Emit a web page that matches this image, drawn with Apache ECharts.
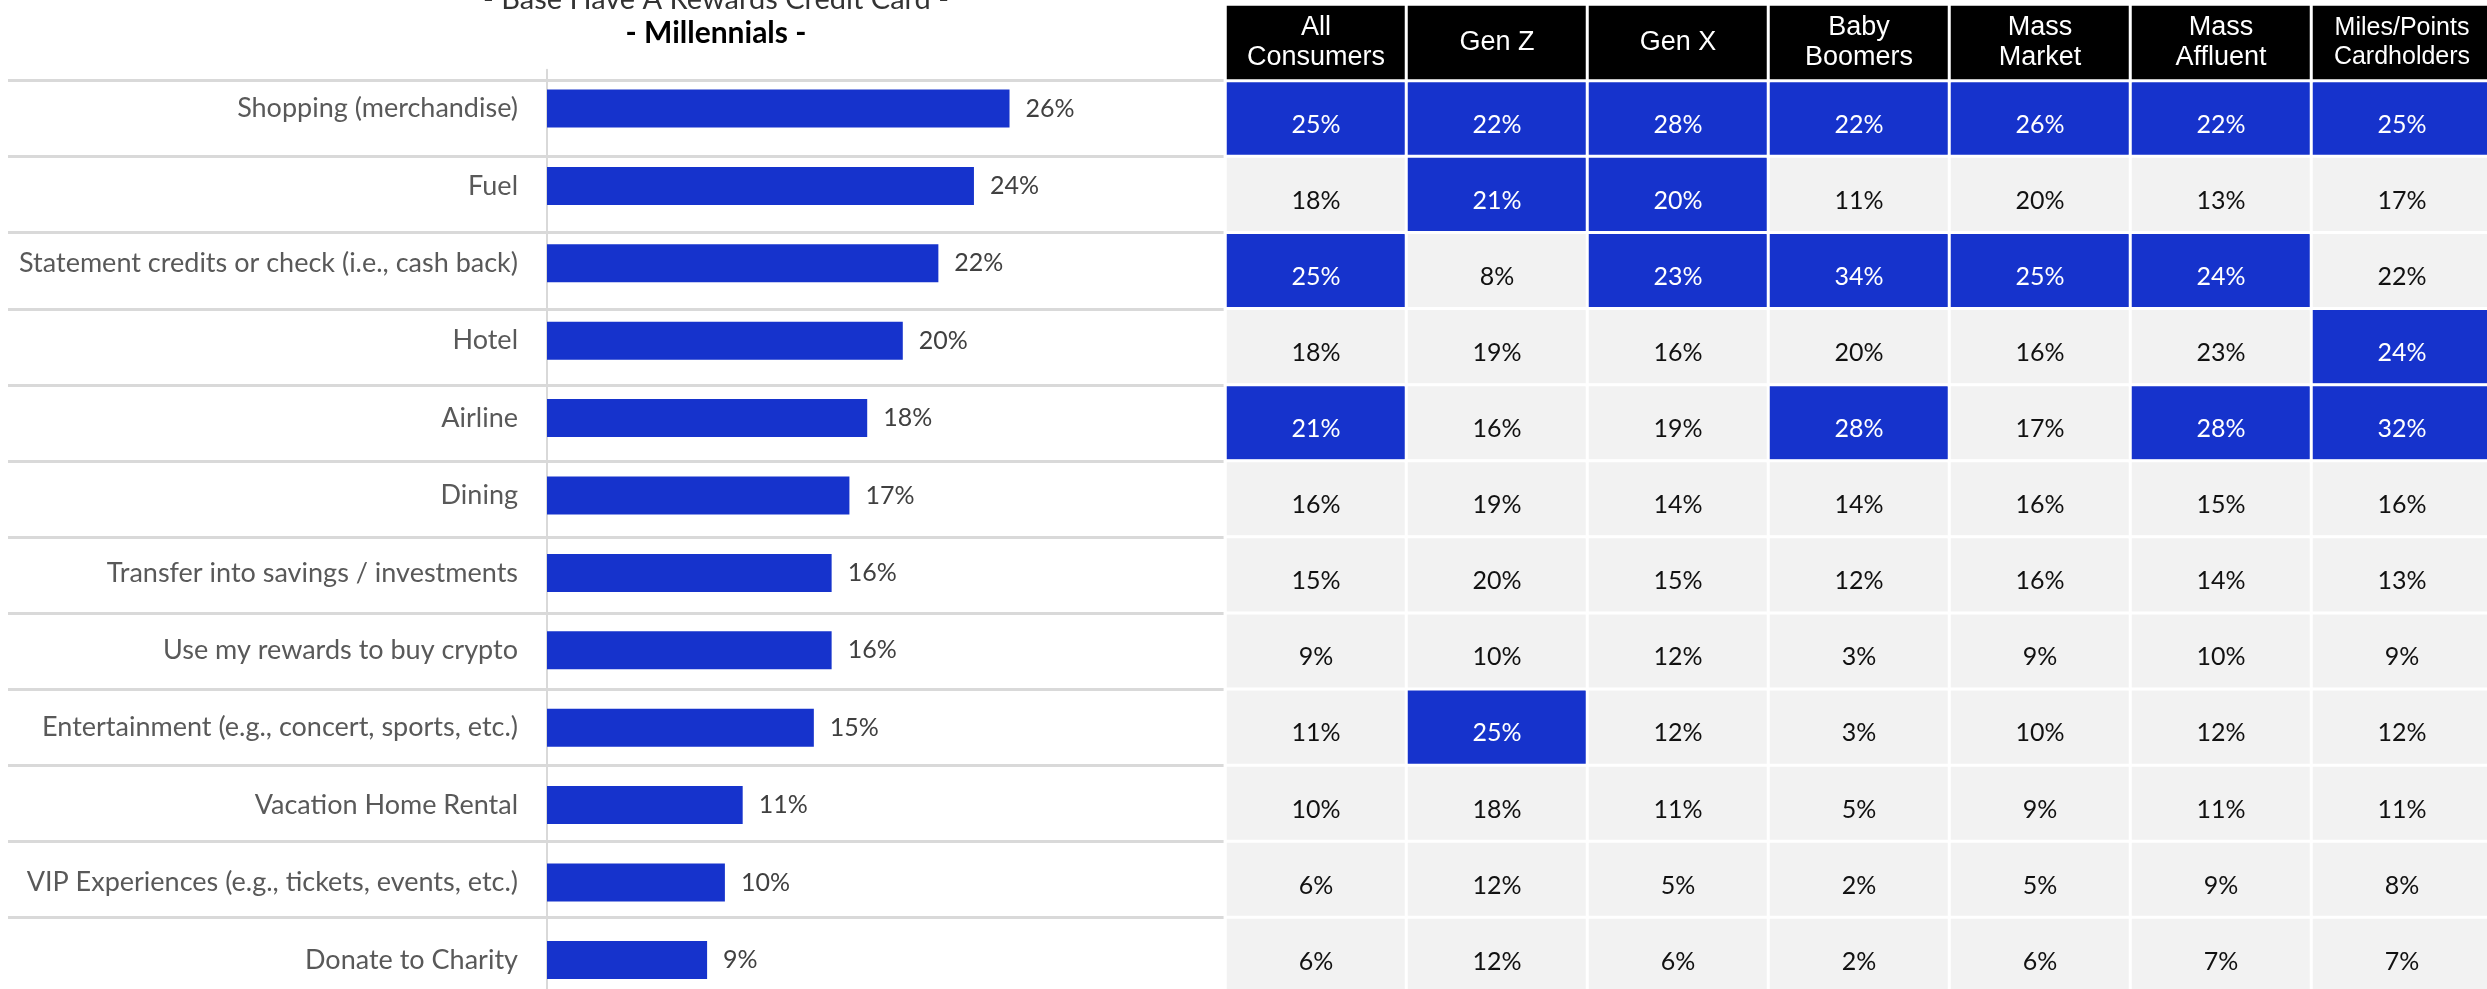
<!DOCTYPE html>
<html>
<head>
<meta charset="utf-8">
<title>Rewards Redemption Preferences</title>
<script src="https://cdn.jsdelivr.net/npm/echarts@6/dist/echarts.min.js"></script>
<style>
  html, body { margin: 0; padding: 0; background: #ffffff; }
  #chart { width: 2487px; height: 989px; }
</style>
</head>
<body>
<div id="chart"></div>
<script>
// Redemption categories, top to bottom
const categories = [
  'Shopping (merchandise)',
  'Fuel',
  'Statement credits or check (i.e., cash back)',
  'Hotel',
  'Airline',
  'Dining',
  'Transfer into savings / investments',
  'Use my rewards to buy crypto',
  'Entertainment (e.g., concert, sports, etc.)',
  'Vacation Home Rental',
  'VIP Experiences (e.g., tickets, events, etc.)',
  'Donate to Charity'
];

// Millennials share (%) for each category
const millennials = [26, 24, 22, 20, 18, 17, 16, 16, 15, 11, 10, 9];

// Comparison segments (column headers)
const segments = [
  'All\nConsumers', 'Gen Z', 'Gen X', 'Baby\nBoomers',
  'Mass\nMarket', 'Mass\nAffluent', 'Miles/Points\nCardholders'
];

// Share (%) per category for each comparison segment
const allConsumers = [25, 18, 25, 18, 21, 16, 15, 9, 11, 10, 6, 6];
const genZ         = [22, 21, 8, 19, 16, 19, 20, 10, 25, 18, 12, 12];
const genX         = [28, 20, 23, 16, 19, 14, 15, 12, 12, 11, 5, 6];
const babyBoomers  = [22, 11, 34, 20, 28, 14, 12, 3, 3, 5, 2, 2];
const massMarket   = [26, 20, 25, 16, 17, 16, 16, 9, 10, 9, 5, 6];
const massAffluent = [22, 13, 24, 23, 28, 15, 14, 10, 12, 11, 9, 7];
const milesPoints  = [25, 17, 22, 24, 32, 16, 13, 9, 12, 11, 8, 7];

// Category rows shown as a segment's top picks
const highlightRows = [
  [0, 2, 4],   // All Consumers
  [0, 1, 8],   // Gen Z
  [0, 1, 2],   // Gen X
  [0, 2, 4],   // Baby Boomers
  [0, 2],      // Mass Market
  [0, 2, 4],   // Mass Affluent
  [0, 3, 4]    // Miles/Points Cardholders
];

const BLUE = '#1633CC';
const CELL_GREY = '#F2F2F2';

const segmentColumns = [allConsumers, genZ, genX, babyBoomers, massMarket, massAffluent, milesPoints];

// Table cells: [column, row, value], coloured by highlight
const tableCells = [];
segmentColumns.forEach(function (col, ci) {
  col.forEach(function (v, ri) {
    const hot = highlightRows[ci].indexOf(ri) !== -1;
    tableCells.push({
      value: [ci, ri, v],
      itemStyle: { color: hot ? BLUE : CELL_GREY },
      label: { color: hot ? '#ffffff' : '#111111' }
    });
  });
});

// Header row cells
const headerCells = segments.map(function (name, ci) {
  const small = ci === segments.length - 1;
  return {
    value: [ci, 0, 0],
    label: small ? { fontSize: 25, lineHeight: 29 } : {}
  };
});

const ROW_H = 76.1;   // table / separator row pitch
const BAR_H = 77.4;   // bar band pitch
const N = categories.length;

const chart = echarts.init(document.getElementById('chart'), null, { renderer: 'canvas' });

chart.setOption({
  animation: false,
  backgroundColor: '#ffffff',
  graphic: [
    {
      type: 'text', x: 716, y: 0,
      style: {
        text: '- Base Have A Rewards Credit Card -',
        font: '29px Lato', fill: '#333333',
        align: 'center', verticalAlign: 'middle'
      }
    },
    {
      type: 'text', x: 716, y: 33,
      style: {
        text: '- Millennials -',
        font: 'bold 30px Lato', fill: '#000000',
        align: 'center', verticalAlign: 'middle'
      }
    }
  ],
  grid: [
    // bars
    { left: 547, top: 69.8, width: 676, height: BAR_H * N, outerBoundsMode: 'none' },
    // row separators
    { left: 8, top: 80.5, width: 1218, height: ROW_H * N, outerBoundsMode: 'none' },
    // comparison table body
    { left: 1225.5, top: 80.5, width: 181 * 7, height: ROW_H * N, outerBoundsMode: 'none' },
    // comparison table header
    { left: 1225.5, top: 4.5, width: 181 * 7, height: 76, outerBoundsMode: 'none' }
  ],
  xAxis: [
    { gridIndex: 0, type: 'value', min: 0, max: 38, show: false },
    { gridIndex: 1, type: 'value', min: 0, max: 1, show: false },
    { gridIndex: 2, type: 'category', data: segments, show: false },
    { gridIndex: 3, type: 'category', data: segments, show: false }
  ],
  yAxis: [
    {
      gridIndex: 0, type: 'category', data: categories, inverse: true,
      axisLine: { show: true, lineStyle: { color: '#d9d9d9', width: 2 } },
      axisTick: { show: false },
      splitLine: { show: false },
      axisLabel: {
        interval: 0, margin: 29, color: '#595959',
        fontFamily: 'Lato', fontSize: 27
      }
    },
    {
      gridIndex: 1, type: 'category', data: categories, inverse: true,
      axisLine: { show: false }, axisTick: { show: false },
      axisLabel: { show: false, interval: 0 },
      splitLine: { show: true, interval: 0, lineStyle: { color: '#d9d9d9', width: 3 } }
    },
    { gridIndex: 2, type: 'category', data: categories, inverse: true, show: false },
    { gridIndex: 3, type: 'category', data: ['header'], show: false }
  ],
  series: [
    {
      type: 'bar',
      xAxisIndex: 0, yAxisIndex: 0,
      data: millennials,
      barWidth: 38,
      itemStyle: { color: BLUE },
      label: {
        show: true, position: 'right', distance: 16,
        formatter: '{c}%', color: '#404040',
        fontFamily: 'Lato', fontSize: 25
      },
      emphasis: { disabled: true }
    },
    {
      type: 'heatmap',
      xAxisIndex: 2, yAxisIndex: 2,
      data: tableCells,
      itemStyle: { borderColor: '#ffffff', borderWidth: 3 },
      label: {
        show: true, offset: [0, 6],
        fontFamily: 'Lato', fontSize: 25,
        formatter: function (p) { return p.value[2] + '%'; }
      },
      emphasis: { disabled: true }
    },
    {
      type: 'heatmap',
      xAxisIndex: 3, yAxisIndex: 3,
      data: headerCells,
      itemStyle: { color: '#000000', borderColor: '#ffffff', borderWidth: 3 },
      label: {
        show: true, color: '#ffffff',
        fontFamily: 'Liberation Sans', fontSize: 27, lineHeight: 30,
        formatter: function (p) { return segments[p.value[0]]; }
      },
      emphasis: { disabled: true }
    }
  ]
});
</script>
</body>
</html>
